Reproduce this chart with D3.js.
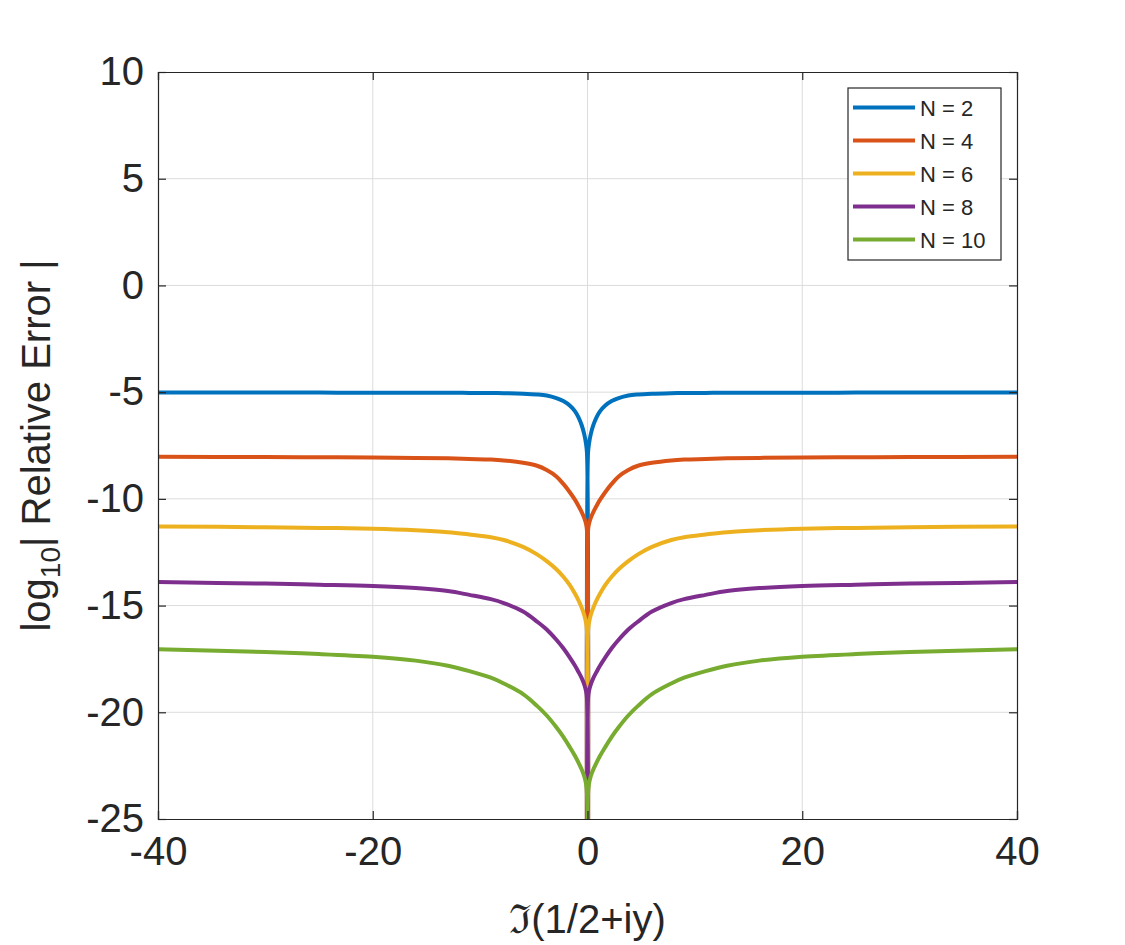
<!DOCTYPE html>
<html>
<head>
<meta charset="utf-8">
<script src="https://cdn.jsdelivr.net/npm/d3@7"></script>
<style>
  body { margin: 0; background: #fff; }
  text { font-family: Arial, "Liberation Sans", sans-serif; fill: #262626; }
</style>
</head>
<body>
<div class="canvas"></div>
<script>
// values (x = Im(1/2+iy), y = log10|relative error|)
const xs = [-40, -30, -25, -20, -16, -13, -11, -9, -7.8, -6, -4.7, -3.8, -2.9, -2.25, -1.63, -1.16, -0.85, -0.54, -0.3, -0.14, -0.05, 0,
             0.05, 0.14, 0.3, 0.54, 0.85, 1.16, 1.63, 2.25, 2.9, 3.8, 4.7, 6, 7.8, 9, 11, 13, 16, 20, 25, 30, 40];

const seriesNames = ['N = 2', 'N = 4', 'N = 6', 'N = 8', 'N = 10'];

const errN2  = [-5.02, -5.02, -5.02, -5.03, -5.03, -5.03, -5.035, -5.04, -5.05, -5.075, -5.11, -5.16, -5.28, -5.42, -5.64, -5.9, -6.17, -6.55, -6.98, -7.42, -7.85, -40,
                -7.85, -7.42, -6.98, -6.55, -6.17, -5.9, -5.64, -5.42, -5.28, -5.16, -5.11, -5.075, -5.05, -5.04, -5.035, -5.03, -5.03, -5.03, -5.02, -5.02, -5.02];
const errN4  = [-8.03, -8.04, -8.05, -8.06, -8.08, -8.1, -8.13, -8.16, -8.2, -8.31, -8.45, -8.65, -8.95, -9.3, -9.7, -10.05, -10.32, -10.62, -10.9, -11.17, -11.5, -40,
                -11.5, -11.17, -10.9, -10.62, -10.32, -10.05, -9.7, -9.3, -8.95, -8.65, -8.45, -8.31, -8.2, -8.16, -8.13, -8.1, -8.08, -8.06, -8.05, -8.04, -8.03];
const errN6  = [-11.29, -11.33, -11.36, -11.4, -11.47, -11.56, -11.67, -11.8, -11.93, -12.25, -12.6, -12.92, -13.3, -13.65, -14.05, -14.45, -14.75, -15.1, -15.45, -15.8, -16.2, -40,
                -16.2, -15.8, -15.45, -15.1, -14.75, -14.45, -14.05, -13.65, -13.3, -12.92, -12.6, -12.25, -11.93, -11.8, -11.67, -11.56, -11.47, -11.4, -11.36, -11.33, -11.29];
const errN8  = [-13.9, -13.97, -14.02, -14.08, -14.18, -14.32, -14.5, -14.7, -14.88, -15.28, -15.75, -16.12, -16.6, -17.0, -17.45, -17.82, -18.1, -18.4, -18.7, -19.0, -19.35, -40,
                -19.35, -19.0, -18.7, -18.4, -18.1, -17.82, -17.45, -17.0, -16.6, -16.12, -15.75, -15.28, -14.88, -14.7, -14.5, -14.32, -14.18, -14.08, -14.02, -13.97, -13.9];
const errN10 = [-17.05, -17.18, -17.27, -17.4, -17.58, -17.82, -18.07, -18.38, -18.65, -19.15, -19.7, -20.15, -20.7, -21.15, -21.65, -22.05, -22.35, -22.68, -23.0, -23.35, -23.8, -40,
                -23.8, -23.35, -23.0, -22.68, -22.35, -22.05, -21.65, -21.15, -20.7, -20.15, -19.7, -19.15, -18.65, -18.38, -18.07, -17.82, -17.58, -17.4, -17.27, -17.18, -17.05];

const xTicks = [-40, -20, 0, 20, 40];
const yTicks = [-25, -20, -15, -10, -5, 0, 5, 10];

const colors = ['#0072BD', '#D95319', '#EDB120', '#7E2F8E', '#77AC30'];
const allSeries = [errN2, errN4, errN6, errN8, errN10];

//------------------------ layout
const dims = { width: 1125, height: 945 };
const plot = { left: 158, top: 72, right: 1017, bottom: 819 };

const svg = d3.select('.canvas')
  .append('svg')
  .attr('width', dims.width)
  .attr('height', dims.height);

const x = d3.scaleLinear().domain([-40, 40]).range([plot.left, plot.right]);
const y = d3.scaleLinear().domain([-25, 10]).range([plot.bottom, plot.top]);

svg.append('rect')
  .attr('x', plot.left).attr('y', plot.top)
  .attr('width', plot.right - plot.left).attr('height', plot.bottom - plot.top)
  .attr('fill', '#fff');

//------------------------ grid
const grid = svg.append('g').attr('stroke', '#dcdcdc').attr('stroke-width', 1);
grid.selectAll('.gx').data(xTicks.slice(1, -1)).enter().append('line')
  .attr('x1', d => x(d)).attr('x2', d => x(d))
  .attr('y1', plot.top).attr('y2', plot.bottom);
grid.selectAll('.gy').data(yTicks.slice(1, -1)).enter().append('line')
  .attr('y1', d => y(d)).attr('y2', d => y(d))
  .attr('x1', plot.left).attr('x2', plot.right);

//------------------------ curves
svg.append('clipPath').attr('id', 'clip')
  .append('rect')
  .attr('x', plot.left).attr('y', plot.top)
  .attr('width', plot.right - plot.left).attr('height', plot.bottom - plot.top);

const line = d3.line()
  .x(d => x(d[0]))
  .y(d => y(d[1]))
  .curve(d3.curveCatmullRom.alpha(0.5));

const curves = svg.append('g').attr('clip-path', 'url(#clip)');
allSeries.forEach((vals, i) => {
  curves.append('path')
    .datum(xs.map((xv, j) => [xv, vals[j]]))
    .attr('d', line)
    .attr('fill', 'none')
    .attr('stroke', colors[i])
    .attr('stroke-width', 4)
    .attr('stroke-linejoin', 'round');
});

//------------------------ axes (box with inward ticks)
const axisG = svg.append('g');
const axBottom = d3.axisBottom(x).tickValues(xTicks).tickSize(-8).tickPadding(18).tickFormat(d3.format('d'));
const axTop = d3.axisTop(x).tickValues(xTicks).tickSize(-8).tickFormat('');
const axLeft = d3.axisLeft(y).tickValues(yTicks).tickSize(-8).tickPadding(14).tickFormat(d3.format('d'));
const axRight = d3.axisRight(y).tickValues(yTicks).tickSize(-8).tickFormat('');

axisG.append('g').attr('transform', `translate(0,${plot.bottom})`).call(axBottom);
axisG.append('g').attr('transform', `translate(0,${plot.top})`).call(axTop);
axisG.append('g').attr('transform', `translate(${plot.left},0)`).call(axLeft);
axisG.append('g').attr('transform', `translate(${plot.right},0)`).call(axRight);

axisG.selectAll('.domain').attr('stroke', '#262626').attr('stroke-width', 1.2);
axisG.selectAll('.tick line').attr('stroke', '#262626').attr('stroke-width', 1.2);
axisG.selectAll('.tick text')
  .style('font-family', 'Arial, "Liberation Sans", sans-serif')
  .style('font-size', '40px')
  .attr('fill', '#262626');
// minus sign drawn as a hyphen like the reference
axisG.selectAll('.tick text').text(function () { return d3.select(this).text().replace('\u2212', '-'); });

//------------------------ axis labels
svg.append('text')
  .attr('x', (plot.left + plot.right) / 2)
  .attr('y', 933)
  .attr('text-anchor', 'middle')
  .style('font-size', '40px')
  .text('\u2111(1/2+iy)');

const yLab = svg.append('text')
  .attr('transform', `translate(50, ${(plot.top + plot.bottom) / 2}) rotate(-90)`)
  .attr('text-anchor', 'middle')
  .style('font-size', '40px');
yLab.append('tspan').text('log');
yLab.append('tspan').attr('dy', 10).style('font-size', '28px').text('10');
yLab.append('tspan').attr('dy', -10).text('| Relative Error |');

//------------------------ legend
const legend = { x: 848, y: 88, w: 153, h: 172, rowY: 107.5, rowGap: 33 };
const legendGroup = svg.append('g');
legendGroup.append('rect')
  .attr('x', legend.x).attr('y', legend.y)
  .attr('width', legend.w).attr('height', legend.h)
  .attr('fill', '#fff').attr('stroke', '#262626').attr('stroke-width', 1.2);

const rows = legendGroup.selectAll('.row').data(seriesNames).enter().append('g')
  .attr('transform', (d, i) => `translate(0, ${legend.rowY + i * legend.rowGap})`);
rows.append('line')
  .attr('x1', 853).attr('x2', 915)
  .attr('stroke', (d, i) => colors[i]).attr('stroke-width', 4);
rows.append('text')
  .attr('x', 920).attr('y', 8)
  .style('font-size', '22px')
  .attr('fill', '#000')
  .text(d => d);
</script>
</body>
</html>
